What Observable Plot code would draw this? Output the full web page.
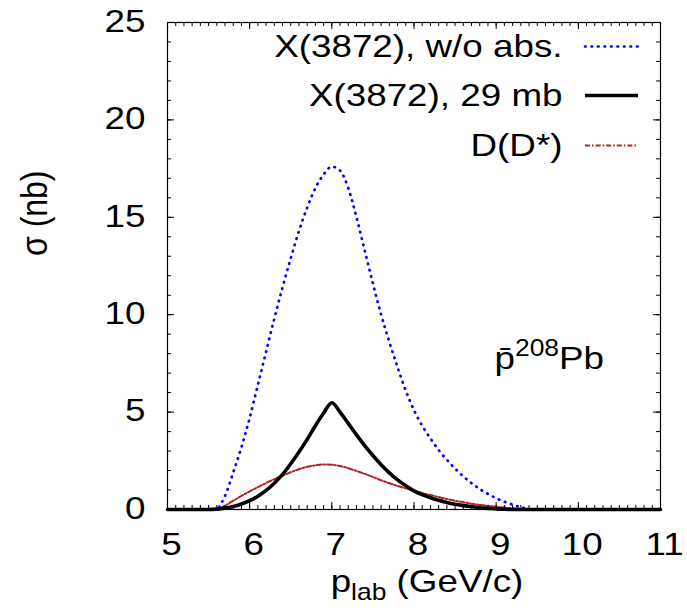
<!DOCTYPE html>
<html>
<head>
<meta charset="utf-8">
<script src="https://cdn.jsdelivr.net/npm/d3@7"></script>
<script src="https://cdn.jsdelivr.net/npm/@observablehq/plot@0.6"></script>
<style>
  body { margin: 0; background: #fff; }
  #chart { width: 687px; height: 612px; }
</style>
</head>
<body>
<div id="chart"></div>
<script>
// ---- data ----
const pLab = [5.0, 5.5, 5.6, 5.7, 5.8, 5.9, 6.0, 6.1, 6.2, 6.3, 6.4, 6.5, 6.6, 6.7, 6.8, 6.9,
  7.0, 7.1, 7.2, 7.3, 7.4, 7.5, 7.6, 7.7, 7.8, 7.9, 8.0, 8.1, 8.2, 8.3, 8.4, 8.5, 8.6, 8.7,
  8.8, 8.9, 9.0, 9.1, 9.2, 9.3, 9.4, 9.5, 10.0, 10.5, 11.0];
const sigmaNoAbs = [0, 0, 0.05, 0.7, 1.9, 3.2, 4.7, 6.4, 8.1, 9.8, 11.4, 12.9, 14.3, 15.5, 16.5, 17.2,
  17.6, 17.4, 16.5, 15.0, 13.3, 11.6, 10.0, 8.6, 7.3, 6.1, 5.1, 4.3, 3.65, 3.05, 2.55, 2.1, 1.7, 1.35,
  1.05, 0.8, 0.58, 0.4, 0.25, 0.12, 0.03, 0, 0, 0, 0];
const sigma29mb = [0, 0, 0.02, 0.07, 0.15, 0.28, 0.45, 0.68, 0.98, 1.35, 1.8, 2.35, 2.95, 3.6, 4.3, 4.95,
  5.48, 5.0, 4.42, 3.83, 3.28, 2.77, 2.3, 1.88, 1.52, 1.22, 0.96, 0.76, 0.6, 0.47, 0.36, 0.27, 0.2, 0.14,
  0.09, 0.06, 0.03, 0.01, 0, 0, 0, 0, 0, 0, 0];
const sigmaD = [0, 0, 0.02, 0.2, 0.45, 0.7, 0.93, 1.15, 1.36, 1.56, 1.74, 1.91, 2.07, 2.19, 2.27, 2.31,
  2.3, 2.23, 2.12, 1.98, 1.83, 1.67, 1.5, 1.35, 1.21, 1.08, 0.96, 0.85, 0.74, 0.64, 0.54, 0.45, 0.37, 0.3,
  0.24, 0.19, 0.14, 0.1, 0.06, 0.03, 0.01, 0, 0, 0, 0];
const seriesNames = ["X(3872), w/o abs.", "X(3872), 29 mb", "D(D*)"];
const xTicks = [5, 6, 7, 8, 9, 10, 11];
const yTicks = [0, 5, 10, 15, 20, 25];
const xLabel = "plab (GeV/c)";
const yLabel = "σ (nb)";
const reactionLabel = "p\u0304208Pb";

// ---- layout / style ----
const W = 687, H = 612;
const mL = 167, mR = 27, mT = 22, mB = 103;
const xDom = [5, 11], yDom = [0, 25];
const pw = W - mL - mR, ph = H - mT - mB;
const xu = (xDom[1] - xDom[0]) / pw;   // data units per px (x)
const yu = (yDom[1] - yDom[0]) / ph;   // data units per px (y)
const FS = 32;
const SX = 1.15;

const rows = pLab.map((x, i) => ({x, a: sigmaNoAbs[i], b: sigma29mb[i], c: sigmaD[i]}));

const styles = [
  {stroke: "#0000ff", strokeWidth: 2.7, strokeDasharray: "0.6,5.9", strokeLinecap: "round"},
  {stroke: "#000000", strokeWidth: 3.6},
  {stroke: "#b22222", strokeWidth: 2, strokeDasharray: "5,2,1.6,2"}
];

const xMinor = d3.range(50, 111).map(d => d / 10);
const yMinor = d3.range(0, 26);
const majLen = 7, minLen = 4;

// legend placement (px within frame -> data)
const legTextX = xDom[0] + (562 - mL) * xu;
const legX1 = xDom[0] + (585 - mL) * xu;
const legX2 = xDom[0] + (638 - mL) * xu;
const legY = [46, 95, 145].map(py => yDom[1] - (py - mT) * yu);

const marks = [
  // curves
  Plot.line(rows, {x: "x", y: "a", curve: "monotone-x", ...styles[0]}),
  Plot.line(rows, {x: "x", y: "c", curve: "monotone-x", ...styles[2]}),
  Plot.line(rows, {x: "x", y: "b", curve: "monotone-x", ...styles[1]}),
  // inward ticks
  Plot.ruleX(xMinor, {x: d => d, y1: 0, y2: minLen * yu, stroke: "black", strokeWidth: 1}),
  Plot.ruleX(xTicks, {x: d => d, y1: 0, y2: majLen * yu, stroke: "black", strokeWidth: 1}),
  Plot.ruleX(xMinor, {x: d => d, y1: 25, y2: 25 - minLen * yu, stroke: "black", strokeWidth: 1}),
  Plot.ruleX(xTicks, {x: d => d, y1: 25, y2: 25 - majLen * yu, stroke: "black", strokeWidth: 1}),
  Plot.ruleY(yMinor, {y: d => d, x1: 5, x2: 5 + minLen * xu, stroke: "black", strokeWidth: 1}),
  Plot.ruleY(yTicks, {y: d => d, x1: 5, x2: 5 + majLen * xu, stroke: "black", strokeWidth: 1}),
  Plot.ruleY(yMinor, {y: d => d, x1: 11, x2: 11 - minLen * xu, stroke: "black", strokeWidth: 1}),
  Plot.ruleY(yTicks, {y: d => d, x1: 11, x2: 11 - majLen * xu, stroke: "black", strokeWidth: 1}),
  Plot.frame({stroke: "black", strokeWidth: 1.2}),
  // axes
  Plot.axisX(xTicks, {anchor: "bottom", tickSize: 0, tickPadding: 23, fontSize: FS, dx: 4, label: null}),
  Plot.axisY(yTicks, {anchor: "left", tickSize: 0, tickPadding: 22, fontSize: FS, dy: -1, label: null}),
  // axis titles
  Plot.text([xLabel], {frameAnchor: "bottom", dx: 13, dy: 82, fontSize: FS, text: d => d}),
  Plot.text([yLabel], {frameAnchor: "left", dx: -132, dy: -10, rotate: -90, fontSize: FS, text: d => d}),
  // reaction label
  Plot.text([reactionLabel], {x: 5 + (494 - mL) * xu, y: 25 - (358 - mT) * yu, textAnchor: "start", fontSize: FS, text: d => d}),
  // legend
  Plot.text(seriesNames, {x: legTextX, y: (d, i) => legY[i], textAnchor: "end", fontSize: FS, text: d => d}),
  ...styles.map((s, i) => Plot.ruleY([legY[i]], {y: d => d, x1: legX1, x2: legX2, ...s}))
];

const chart = Plot.plot({
  width: W, height: H,
  marginLeft: mL, marginRight: mR, marginTop: mT, marginBottom: mB,
  x: {domain: xDom},
  y: {domain: yDom},
  style: {fontFamily: "'Liberation Sans', Arial, Helvetica, sans-serif", background: "white", color: "black"},
  marks
});

// horizontal stretch of the text glyphs (as in the reference)
chart.querySelectorAll("text").forEach(t => {
  const tr = t.getAttribute("transform");
  if (tr && /^translate\([^)]*\)/.test(tr)) {
    t.setAttribute("transform", tr.replace(/^(translate\([^)]*\))/, `$1 scale(${SX},1)`));
  } else {
    const x = +t.getAttribute("x") || 0, y = +t.getAttribute("y") || 0;
    t.setAttribute("transform", `translate(${x},${y}) scale(${SX},1) translate(${-x},${-y})` + (tr ? " " + tr : ""));
  }
});

// sub/superscripts
const ns = "http://www.w3.org/2000/svg";
function rich(t, parts) {
  t.textContent = "";
  parts.forEach(([s, size, dy]) => {
    const ts = document.createElementNS(ns, "tspan");
    ts.textContent = s;
    if (size) ts.setAttribute("font-size", size);
    if (dy) ts.setAttribute("dy", dy);
    t.appendChild(ts);
  });
}
chart.querySelectorAll("text").forEach(t => {
  if (t.textContent === xLabel) rich(t, [["p"], ["lab", 23, 8], [" (GeV/c)", null, -8]]);
  else if (t.textContent === reactionLabel) rich(t, [["p\u0304"], ["208", 23, -13], ["Pb", null, 13]]);
});

document.getElementById("chart").appendChild(chart);
</script>
</body>
</html>
